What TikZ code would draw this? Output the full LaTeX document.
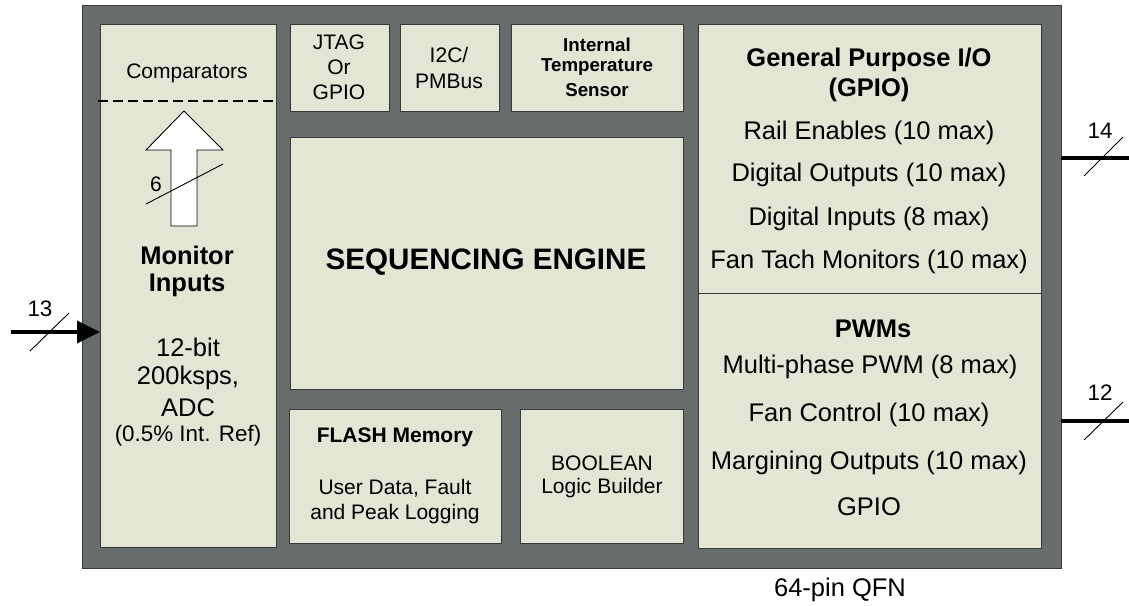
\documentclass[tikz,border=0pt]{standalone}
\usepackage{fontspec}
\setmainfont{Liberation Sans}
\usetikzlibrary{arrows.meta}
\definecolor{chipgray}{HTML}{676C6C}
\definecolor{blockfill}{HTML}{E3E5D5}
\definecolor{edge}{HTML}{3A3C3C}
\newcommand\fbig{\fontsize{25.5}{30}\selectfont}
\newcommand\fsmall{\fontsize{21}{25}\selectfont}
\newcommand\fmid{\fontsize{22.4}{26}\selectfont}
\newcommand\ftemp{\fontsize{18.7}{22.5}\selectfont}
\newcommand\fseq{\fontsize{29.6}{34}\selectfont}
\begin{document}
\begin{tikzpicture}[x=1pt,y=-1pt,
  block/.style={draw=edge,line width=0.9pt,fill=blockfill,anchor=north west,inner sep=0pt,outer sep=0pt},
  chip/.style={draw=edge,line width=0.9pt,fill=chipgray,anchor=north west,inner sep=0pt,outer sep=0pt},
  txt/.style={inner sep=0pt,anchor=center,text=black},
  bus/.style={line width=4pt},
  slash/.style={line width=0.9pt}]
\useasboundingbox (0,0) rectangle (1129,605);
% chip
\node[chip,minimum width=979pt,minimum height=563pt] (chipbox) at (82,5) {};
% blocks
\node[block,minimum width=176pt,minimum height=523pt] (mon) at (100,24) {};
\node[block,minimum width=99pt,minimum height=87pt] (jtag) at (290,24) {};
\node[block,minimum width=99pt,minimum height=87pt] (i2c) at (400,24) {};
\node[block,minimum width=172pt,minimum height=87pt] (temp) at (511,24) {};
\node[block,minimum width=393pt,minimum height=252pt] (seq) at (290,137) {};
\node[block,minimum width=212pt,minimum height=134pt] (flash) at (289,409) {};
\node[block,minimum width=163pt,minimum height=134pt] (bool) at (520,409) {};
\node[block,minimum width=343pt,minimum height=269pt] (gpio) at (698,24) {};
\node[block,minimum width=343pt,minimum height=255pt] (pwm) at (698,293) {};
% comparators divider
\coordinate (dl) at (98,101);
\coordinate (dr) at (277,101);
\draw[line width=2.8pt,dash pattern=on 9.5pt off 5.5pt] (dl) -- (dr);
% hollow arrow
\draw[fill=white,line width=0.9pt] (171,226) -- (171,150) -- (146,150) -- (184,111) -- (223,150) -- (197,150) -- (197,226) -- cycle;
\coordinate (s6a) at (146,204);
\coordinate (s6b) at (223,164);
\draw[slash] (s6a) -- (s6b);
\node[txt,font=\fsmall] (n6) at (156,184) {6};
% monitor texts
\node[txt,font=\fsmall] (tcomp) at (187,73) {Comparators};
\node[txt,font=\fbig\bfseries] (tmon1) at (187,255) {Monitor};
\node[txt,font=\fbig\bfseries] (tmon2) at (187,285) {Inputs};
\node[txt,font=\fbig] (tadc1) at (188,347) {12-bit};
\node[txt,font=\fbig] (tadc2) at (188,378) {200ksps,};
\node[txt,font=\fbig] (tadc3) at (188,408) {ADC};
\node[txt,font=\fmid] (tadc4) at (188,436) {(0.5\% Int. Ref)};
% input 13
\coordinate (in13) at (11,332);
\draw[bus,-{Triangle[length=23pt,width=22pt]}] (in13) -- (in13 -| mon.west);
\coordinate (s13a) at (30,351);
\coordinate (s13b) at (69,313);
\draw[slash] (s13a) -- (s13b);
\node[txt,font=\fmid] (n13) at (40,309) {13};
% top small blocks
\node[txt,font=\fsmall] at (339,42) (tj1) {JTAG};
\node[txt,font=\fsmall] at (339,67) (tj2) {Or};
\node[txt,font=\fsmall] at (339,92) (tj3) {GPIO};
\node[txt,font=\fsmall] at (449,55) (ti1) {I2C/};
\node[txt,font=\fsmall] at (449,81) (ti2) {PMBus};
\node[txt,font=\ftemp\bfseries] at (597,45) (tt1) {Internal};
\node[txt,font=\ftemp\bfseries] at (597,67) (tt2) {Temperature};
\node[txt,font=\ftemp\bfseries] at (597,90) (tt3) {Sensor};
% sequencing engine
\node[txt,font=\fseq\bfseries] (tseq) at (486,262) {SEQUENCING ENGINE};
% flash
\node[txt,font=\fsmall\bfseries] (tf1) at (395,437) {FLASH Memory};
\node[txt,font=\fsmall] (tf2) at (395,488) {User Data, Fault};
\node[txt,font=\fsmall] (tf3) at (395,514) {and Peak Logging};
% boolean
\node[txt,font=\fsmall] (tb1) at (602,463) {BOOLEAN};
\node[txt,font=\fsmall] (tb2) at (602,488) {Logic Builder};
% gpio
\node[txt,font=\fbig\bfseries] (tg1) at (869,60) {General Purpose I/O};
\node[txt,font=\fbig\bfseries] (tg2) at (869,90) {(GPIO)};
\node[txt,font=\fbig] (tg3) at (869,133) {Rail Enables (10 max)};
\node[txt,font=\fbig] (tg4) at (869,175) {Digital Outputs (10 max)};
\node[txt,font=\fbig] (tg5) at (869,219) {Digital Inputs (8 max)};
\node[txt,font=\fbig] (tg6) at (869,262) {Fan Tach Monitors (10 max)};
% pwm
\node[txt,font=\fbig\bfseries] (tp1) at (873,329) {PWMs};
\node[txt,font=\fbig] (tp2) at (870,367) {Multi-phase PWM (8 max)};
\node[txt,font=\fbig] (tp3) at (869,415) {Fan Control (10 max)};
\node[txt,font=\fbig] (tp4) at (869,463) {Margining Outputs (10 max)};
\node[txt,font=\fbig] (tp5) at (869,507) {GPIO};
% outputs
\coordinate (o14) at (1129,158);
\draw[bus] (o14 -| chipbox.east) -- (o14);
\coordinate (s14a) at (1084,176);
\coordinate (s14b) at (1123,137);
\draw[slash] (s14a) -- (s14b);
\node[txt,font=\fmid] (n14) at (1100,131) {14};
\coordinate (o12) at (1129,421);
\draw[bus] (o12 -| chipbox.east) -- (o12);
\coordinate (s12a) at (1084,440);
\coordinate (s12b) at (1123,402);
\draw[slash] (s12a) -- (s12b);
\node[txt,font=\fmid] (n12) at (1100,393) {12};
% package
\node[txt,font=\fbig] (tpkg) at (840,590) {64-pin QFN};
\end{tikzpicture}
\end{document}
